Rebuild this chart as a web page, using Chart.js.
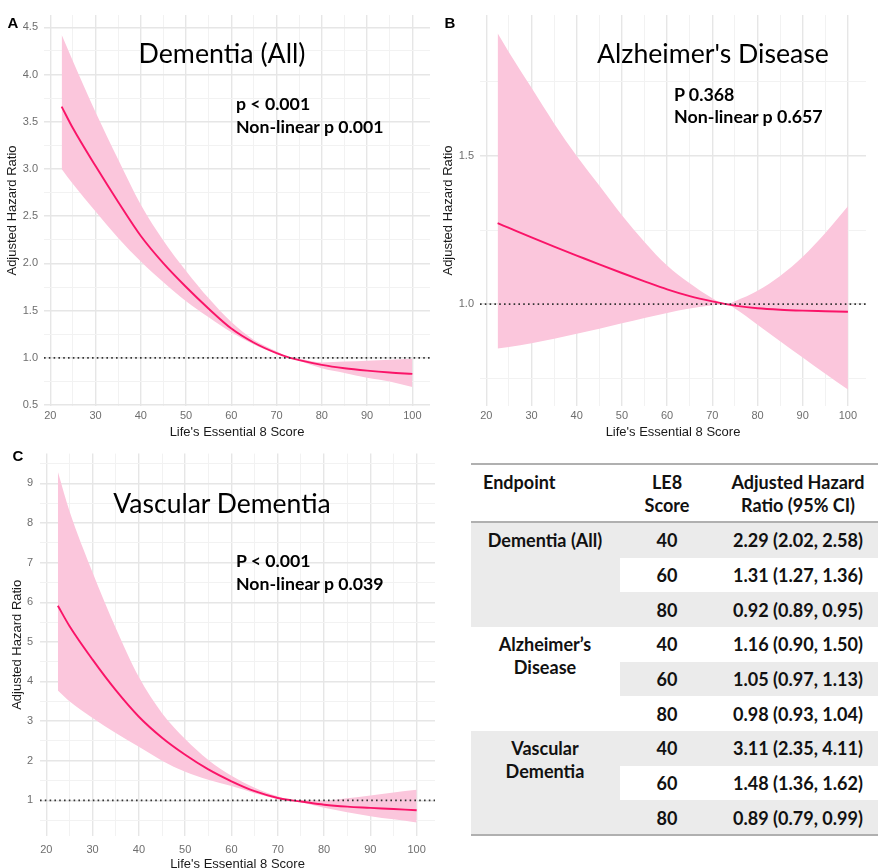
<!DOCTYPE html>
<html><head><meta charset="utf-8">
<script src="https://cdn.jsdelivr.net/npm/chart.js@4.4.1/dist/chart.umd.min.js"></script>
<style>
html,body{margin:0;padding:0;background:#fff;width:878px;height:868px;overflow:hidden;}
body{position:relative;font-family:"Liberation Sans",Arial,sans-serif;}
canvas{position:absolute;}
.lbl{position:absolute;font:bold 15px "Liberation Sans",Arial,sans-serif;color:#000;transform:translate(-50%,-50%);line-height:1;}
.t{position:absolute;font-family:Lato,sans-serif;color:#000;white-space:nowrap;line-height:1;transform:translate(-50%,-50%);}
.p{position:absolute;font-family:Lato,sans-serif;font-weight:bold;color:#000;white-space:nowrap;line-height:1;transform:translateY(-50%);}
.tc{position:absolute;font-family:Lato,sans-serif;font-weight:bold;color:#111;white-space:nowrap;line-height:1;transform:translate(-50%,-50%);}
.tl{position:absolute;font-family:Lato,sans-serif;font-weight:bold;color:#111;white-space:nowrap;line-height:1;transform:translateY(-50%);}
.bx{position:absolute;}
</style></head><body>
<canvas id="cA" width="438" height="440" style="left:0;top:0"></canvas>
<canvas id="cB" width="440" height="440" style="left:438px;top:0"></canvas>
<canvas id="cC" width="440" height="440" style="left:0;top:440px"></canvas>

<div class="lbl" style="left:13px;top:22px">A</div>
<div class="lbl" style="left:450px;top:22px">B</div>
<div class="lbl" style="left:18px;top:455px">C</div>

<div class="t" data-w="167" style="left:222px;top:53px">Dementia (All)</div>
<div class="t" data-w="232" style="left:713px;top:53px">Alzheimer's Disease</div>
<div class="t" data-w="218" style="left:222px;top:503px">Vascular Dementia</div>

<div class="p" style="left:236px;top:104px">p &lt; 0.001</div>
<div class="p" data-w="148" style="left:236px;top:127px">Non-linear p 0.001</div>
<div class="p" style="left:674px;top:95px">P 0.368</div>
<div class="p" data-w="149" style="left:674px;top:117px">Non-linear p 0.657</div>
<div class="p" style="left:236px;top:561px">P &lt; 0.001</div>
<div class="p" data-w="148" style="left:236px;top:584px">Non-linear p 0.039</div>

<div id="tbl"></div>

<script>
// ---------- data ----------
const xScore = [22.5, 25, 30, 35, 40, 45, 50, 55, 60, 65, 70, 73, 75, 80, 85, 90, 95, 100];

const demAllHR    = [3.66, 3.43, 3.03, 2.65, 2.29, 2.00, 1.75, 1.52, 1.31, 1.16, 1.05, 1.00, 0.975, 0.925, 0.89, 0.865, 0.845, 0.83];
const demAllUpper = [4.42, 4.14, 3.60, 3.10, 2.62, 2.24, 1.92, 1.63, 1.38, 1.19, 1.07, 1.00, 0.99, 0.95, 0.96, 0.97, 0.98, 0.99];
const demAllLower = [3.00, 2.84, 2.55, 2.27, 2.02, 1.80, 1.60, 1.43, 1.27, 1.14, 1.04, 1.00, 0.97, 0.89, 0.84, 0.79, 0.75, 0.69];

const adHR    = [1.273, 1.257, 1.225, 1.194, 1.164, 1.134, 1.105, 1.077, 1.05, 1.027, 1.009, 1.0, 0.995, 0.986, 0.981, 0.978, 0.976, 0.974];
const adUpper = [1.914, 1.85, 1.73, 1.61, 1.50, 1.40, 1.30, 1.21, 1.13, 1.07, 1.02, 1.0, 1.01, 1.045, 1.095, 1.16, 1.24, 1.33];
const adLower = [0.85, 0.855, 0.868, 0.883, 0.90, 0.917, 0.935, 0.953, 0.97, 0.985, 0.996, 1.0, 0.985, 0.93, 0.875, 0.82, 0.765, 0.712];

const vdHR    = [5.91, 5.40, 4.55, 3.78, 3.11, 2.58, 2.15, 1.78, 1.48, 1.23, 1.06, 1.00, 0.97, 0.89, 0.84, 0.81, 0.78, 0.75];
const vdUpper = [9.29, 8.30, 6.75, 5.35, 4.11, 3.20, 2.55, 2.02, 1.62, 1.32, 1.10, 1.00, 1.00, 0.99, 1.05, 1.12, 1.20, 1.27];
const vdLower = [3.77, 3.50, 3.08, 2.70, 2.35, 2.00, 1.72, 1.52, 1.36, 1.18, 1.04, 1.00, 0.95, 0.81, 0.70, 0.60, 0.52, 0.44];

const xMajorTicks = [20, 30, 40, 50, 60, 70, 80, 90, 100];
const xMinorTicks = [25, 35, 45, 55, 65, 75, 85, 95];
const demAllYMajor = [0.5, 1.0, 1.5, 2.0, 2.5, 3.0, 3.5, 4.0, 4.5];
const demAllYMinor = [0.75, 1.25, 1.75, 2.25, 2.75, 3.25, 3.75, 4.25];
const adYMajor = [1.0, 1.5];
const adYMinor = [0.75, 1.25, 1.75];
const vdYMajor = [1, 2, 3, 4, 5, 6, 7, 8, 9];
const vdYMinor = [0.5, 1.5, 2.5, 3.5, 4.5, 5.5, 6.5, 7.5, 8.5, 9.5];

const refHR = 1;

const tableHeader = [["Endpoint"], ["LE8", "Score"], ["Adjusted Hazard", "Ratio (95% CI)"]];
const tableEndpoints = [["Dementia (All)"], ["Alzheimer\u2019s", "Disease"], ["Vascular", "Dementia"]];
const tableScores = [40, 60, 80];
const tableHR = [
  ["2.29 (2.02, 2.58)", "1.31 (1.27, 1.36)", "0.92 (0.89, 0.95)"],
  ["1.16 (0.90, 1.50)", "1.05 (0.97, 1.13)", "0.98 (0.93, 1.04)"],
  ["3.11 (2.35, 4.11)", "1.48 (1.36, 1.62)", "0.89 (0.79, 0.99)"]
];

// ---------- styles ----------
const BAND = '#fbc6dc';
const LINE = '#fa1468';
const TICKCOL = '#6e6e6e';
const mctx = document.createElement('canvas').getContext('2d');
function fitSize(text, weight, family, target) {
  mctx.font = weight + ' 100px ' + family;
  return 100 * target / mctx.measureText(text).width;
}
document.querySelectorAll('[data-w]').forEach(el => {
  const w = el.classList.contains('p') ? 'bold' : 'normal';
  el.style.fontSize = fitSize(el.textContent, w, 'Lato', +el.dataset.w).toFixed(2) + 'px';
});
document.querySelectorAll('.p:not([data-w])').forEach(el => {
  const sib = el.nextElementSibling;
  el.style.fontSize = sib.style.fontSize;
});

function makeChart(id, hr, up, lo, c) {
  const pts = arr => xScore.map((x, i) => ({x: x, y: arr[i]}));
  const xAll = xMajorTicks.concat(xMinorTicks).sort((a, b) => a - b);
  const yAll = c.yMajor.concat(c.yMinor).sort((a, b) => a - b);
  const common = {pointRadius: 0, cubicInterpolationMode: 'monotone', fill: false};
  new Chart(document.getElementById(id), {
    type: 'line',
    data: {datasets: [
      Object.assign({}, common, {data: pts(up), fill: '+1', backgroundColor: BAND, borderColor: 'rgba(0,0,0,0)', borderWidth: 0, order: 3}),
      Object.assign({}, common, {data: pts(lo), borderColor: 'rgba(0,0,0,0)', borderWidth: 0, order: 3}),
      Object.assign({}, common, {data: pts(hr), borderColor: LINE, borderWidth: 1.9, order: 1}),
      Object.assign({}, common, {data: [{x: c.xmin, y: refHR}, {x: c.xmax, y: refHR}], borderColor: '#333', borderWidth: 1.6, borderDash: [1.6, 3.2], cubicInterpolationMode: 'default', order: 0})
    ]},
    options: {
      responsive: false, animation: false, events: [],
      plugins: {legend: {display: false}, tooltip: {enabled: false}},
      layout: {padding: {top: c.pt, right: c.pr, left: 0, bottom: 0}},
      scales: {
        x: {
          type: 'linear', min: c.xmin, max: c.xmax,
          afterBuildTicks: s => { s.ticks = xAll.map(v => ({value: v})); },
          afterFit: s => { s.height = c.xh; },
          border: {display: false},
          grid: {drawTicks: false,
            color: ctx => xMajorTicks.includes(ctx.tick.value) ? '#e6e6e6' : '#f2f2f2',
            lineWidth: ctx => xMajorTicks.includes(ctx.tick.value) ? 1.4 : 1},
          ticks: {autoSkip: false, maxRotation: 0, padding: c.xtp, color: TICKCOL,
            font: {family: '"Liberation Sans", Arial, sans-serif', size: 11},
            callback: v => xMajorTicks.includes(v) ? String(v) : ''},
          title: {display: true, text: "Life's Essential 8 Score", color: '#1a1a1a',
            font: {family: '"Liberation Sans", Arial, sans-serif', size: 13},
            padding: {top: 0, bottom: c.xtb}}
        },
        y: {
          type: 'linear', min: c.ymin, max: c.ymax,
          afterBuildTicks: s => { s.ticks = yAll.map(v => ({value: v})); },
          afterFit: s => { s.width = c.yw; },
          border: {display: false},
          grid: {drawTicks: false,
            color: ctx => c.yMajor.includes(ctx.tick.value) ? '#e6e6e6' : '#f2f2f2',
            lineWidth: ctx => c.yMajor.includes(ctx.tick.value) ? 1.4 : 1},
          ticks: {autoSkip: false, padding: c.ytp, color: TICKCOL,
            font: {family: '"Liberation Sans", Arial, sans-serif', size: 11},
            callback: v => c.yMajor.includes(v) ? v.toFixed(c.dec) : ''},
          title: {display: true, text: 'Adjusted Hazard Ratio', color: '#1a1a1a',
            font: {family: '"Liberation Sans", Arial, sans-serif', size: 13},
            padding: {top: c.ytt, bottom: 0}}
        }
      }
    }
  });
}

makeChart('cA', demAllHR, demAllUpper, demAllLower, {
  xmin: 18.6, xmax: 103.9, ymin: 0.49, ymax: 4.63, yMajor: demAllYMajor, yMinor: demAllYMinor, dec: 1,
  pt: 15, pr: 8, xh: 34, xtp: 3, xtb: 0, yw: 44, ytp: 6, ytt: 5});
makeChart('cB', adHR, adUpper, adLower, {
  xmin: 18.6, xmax: 104, ymin: 0.656, ymax: 1.976, yMajor: adYMajor, yMinor: adYMinor, dec: 1,
  pt: 15, pr: 12, xh: 34, xtp: 3, xtb: 0, yw: 42, ytp: 6, ytt: 3});
makeChart('cC', vdHR, vdUpper, vdLower, {
  xmin: 18.64, xmax: 103.96, ymin: 0.1, ymax: 9.75, yMajor: vdYMajor, yMinor: vdYMinor, dec: 0,
  pt: 10, pr: 5, xh: 44, xtp: 7, xtb: 8, yw: 40, ytp: 7, ytt: 10});

// ---------- table ----------
(function buildTable() {
  const root = document.getElementById('tbl');
  const L = 471, R = 878, topRule = 464, headRule = 522, row0 = 523, rowH = 34.67;
  const col1R = 620, c1 = 545, c2 = 667, c3 = 798, epLeft = 483;
  const GRAY = '#ebebeb', RULE = '#b0b0b0';
  const fs = fitSize(tableHR[0][0], 'bold', 'Lato', 130).toFixed(2) + 'px';
  function box(x, y, w, h, bg) {
    const d = document.createElement('div'); d.className = 'bx';
    d.style.cssText = `left:${x}px;top:${y}px;width:${w}px;height:${h}px;background:${bg}`;
    root.appendChild(d);
  }
  function txt(s, x, y, cls) {
    const d = document.createElement('div'); d.className = cls; d.textContent = s;
    d.style.left = x + 'px'; d.style.top = y + 'px'; d.style.fontSize = fs;
    root.appendChild(d);
  }
  for (let g = 0; g < 3; g++) if (g !== 1) box(L, row0 + 3 * g * rowH, col1R - L, 3 * rowH, GRAY);
  for (let r = 0; r < 9; r++) if (r % 2 === 0) box(col1R, row0 + r * rowH, R - col1R, rowH, GRAY);
  box(L, topRule - 1, R - L, 2, RULE);
  box(L, headRule - 1, R - L, 2, RULE);
  box(L, row0 + 9 * rowH - 1, R - L, 2, RULE);
  txt(tableHeader[0][0], epLeft, 482, 'tl');
  tableHeader[1].forEach((s, i) => txt(s, c2, 482 + 23 * i, 'tc'));
  tableHeader[2].forEach((s, i) => txt(s, c3, 482 + 23 * i, 'tc'));
  for (let g = 0; g < 3; g++) {
    const gy = row0 + 3 * g * rowH + rowH / 2;
    tableEndpoints[g].forEach((s, i) => txt(s, c1, gy + 23 * i, 'tc'));
    for (let k = 0; k < 3; k++) {
      const y = row0 + (3 * g + k) * rowH + rowH / 2;
      txt(String(tableScores[k]), c2, y, 'tc');
      txt(tableHR[g][k], c3, y, 'tc');
    }
  }
})();
</script>
</body></html>
